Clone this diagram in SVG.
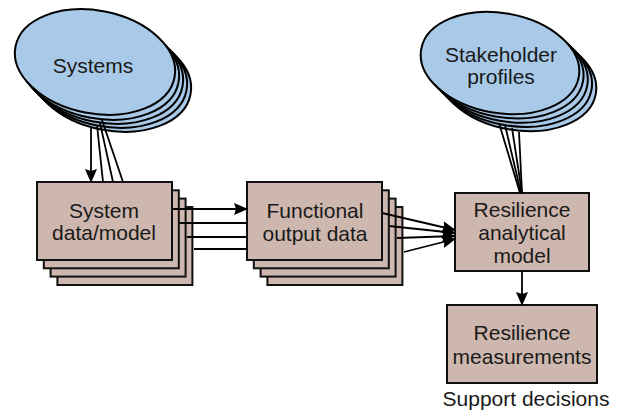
<svg xmlns="http://www.w3.org/2000/svg" width="621" height="414" viewBox="0 0 621 414">
<style>
.ell{fill:#a8c9e7;stroke:#000;stroke-width:2}
.box{fill:#cdb7ae;stroke:#111;stroke-width:2}
.lbl{font-family:"Liberation Sans",Arial,Helvetica,sans-serif;font-size:21px;fill:#1a1a1a;text-anchor:middle}
.ln{stroke:#000;stroke-width:1.8;fill:none}
</style>
<defs>
<marker id="ah" markerUnits="userSpaceOnUse" markerWidth="14" markerHeight="12" viewBox="0 0 14 12" refX="13" refY="6" orient="auto">
<path d="M0,0 L14,6 L0,12 L2,6 z" fill="#000"/>
</marker>
</defs>
<rect width="621" height="414" fill="#fff"/>

<g id="systems">
<ellipse class="ell" cx="111" cy="79" rx="81" ry="51.5" transform="rotate(11 111 79)"/>
<ellipse class="ell" cx="107" cy="75" rx="81" ry="51.5" transform="rotate(11 107 75)"/>
<ellipse class="ell" cx="103" cy="71" rx="81" ry="51.5" transform="rotate(11 103 71)"/>
<ellipse class="ell" cx="99" cy="67" rx="81" ry="51.5" transform="rotate(11 99 67)"/>
<ellipse class="ell" cx="95" cy="62" rx="81" ry="51.5" transform="rotate(11 95 62)"/>
<text class="lbl" x="93" y="73">Systems</text>
</g>

<g id="stakeholder">
<ellipse class="ell" cx="517" cy="80" rx="80" ry="50" transform="rotate(10 517 80)"/>
<ellipse class="ell" cx="512.75" cy="75.75" rx="80" ry="50" transform="rotate(10 512.75 75.75)"/>
<ellipse class="ell" cx="508.5" cy="71.5" rx="80" ry="50" transform="rotate(10 508.5 71.5)"/>
<ellipse class="ell" cx="504.25" cy="67.25" rx="80" ry="50" transform="rotate(10 504.25 67.25)"/>
<ellipse class="ell" cx="500" cy="63" rx="80" ry="50" transform="rotate(10 500 63)"/>
<text class="lbl" x="501" y="62">Stakeholder</text>
<text class="lbl" x="501" y="84">profiles</text>
</g>

<g id="sysdata">
<rect class="box" x="57.4" y="207" width="135" height="78"/>
<rect class="box" x="50.6" y="198.6" width="135" height="78"/>
<rect class="box" x="43.8" y="190.3" width="135" height="78"/>
<rect class="box" x="37" y="182" width="135" height="78"/>
<text class="lbl" x="104" y="218">System</text>
<text class="lbl" x="104" y="240">data/model</text>
</g>

<g id="funcdata">
<rect class="box" x="267.4" y="207" width="135" height="78"/>
<rect class="box" x="260.6" y="198.6" width="135" height="78"/>
<rect class="box" x="253.8" y="190.3" width="135" height="78"/>
<rect class="box" x="247" y="182" width="135" height="78"/>
<text class="lbl" x="315" y="218">Functional</text>
<text class="lbl" x="315" y="241">output data</text>
</g>

<g id="resmodel">
<rect class="box" x="455" y="193" width="134" height="78"/>
<text class="lbl" x="522" y="217">Resilience</text>
<text class="lbl" x="522" y="240">analytical</text>
<text class="lbl" x="522" y="263">model</text>
</g>

<g id="resmeas">
<rect class="box" x="447" y="305" width="150" height="78"/>
<text class="lbl" x="522" y="340">Resilience</text>
<text class="lbl" x="522" y="364">measurements</text>
</g>

<g id="support">
<text class="lbl" x="526" y="406">Support decisions</text>
</g>

<g id="connectors">
<line class="ln" x1="91" y1="128" x2="91" y2="182" marker-end="url(#ah)"/>
<line class="ln" x1="97" y1="125" x2="103" y2="182"/>
<line class="ln" x1="100" y1="123" x2="113" y2="182"/>
<line class="ln" x1="102" y1="120" x2="123" y2="182"/>

<line class="ln" x1="172" y1="209" x2="247" y2="209" marker-end="url(#ah)"/>
<line class="ln" x1="179" y1="223" x2="247" y2="223"/>
<line class="ln" x1="187" y1="237" x2="247" y2="237"/>
<line class="ln" x1="194" y1="249" x2="247" y2="249"/>

<line class="ln" x1="382" y1="213" x2="455" y2="230" marker-end="url(#ah)"/>
<line class="ln" x1="389" y1="226" x2="455" y2="233" marker-end="url(#ah)"/>
<line class="ln" x1="397" y1="238" x2="455" y2="236" marker-end="url(#ah)"/>
<line class="ln" x1="404" y1="252" x2="455" y2="239" marker-end="url(#ah)"/>

<line class="ln" x1="499" y1="123" x2="520" y2="193"/>
<line class="ln" x1="505" y1="125" x2="521" y2="193"/>
<line class="ln" x1="512" y1="128" x2="522" y2="193"/>
<line class="ln" x1="519" y1="132" x2="522" y2="193"/>

<line class="ln" x1="522" y1="271" x2="522" y2="305" marker-end="url(#ah)"/>
</g>
</svg>
